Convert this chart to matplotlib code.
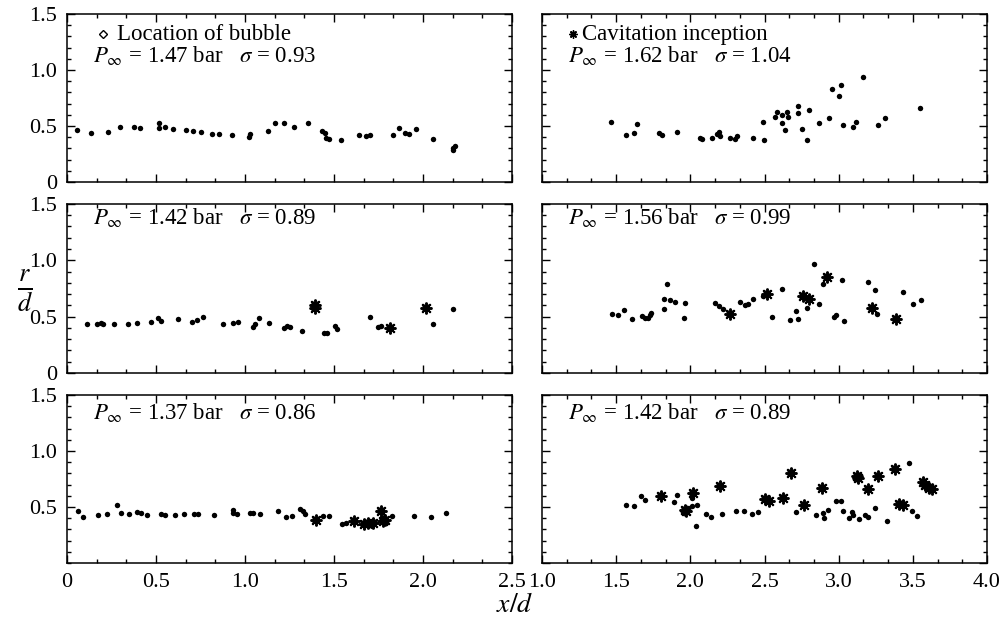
import matplotlib
matplotlib.use("Agg")
import matplotlib.pyplot as plt
from matplotlib.ticker import MultipleLocator, FuncFormatter

plt.rcParams['font.family'] = 'serif'
plt.rcParams['font.serif'] = ['Liberation Serif', 'DejaVu Serif']
plt.rcParams['mathtext.fontset'] = 'stix'

# panel labels (P_inf in bar, sigma)
p_inf = ['1.47', '1.62', '1.42', '1.56', '1.37', '1.42']
sigma = ['0.93', '1.04', '0.89', '0.99', '0.86', '0.89']

# panel 1 (top left) - bubble locations
p1_x = [0.054, 0.133, 0.232, 0.298, 0.376, 0.41, 0.519, 0.519, 0.551, 0.597, 0.669, 0.706,
        0.751, 0.813, 0.854, 0.929, 1.022, 1.028, 1.131, 1.169, 1.219, 1.275, 1.356, 1.431,
        1.449, 1.453, 1.474, 1.539, 1.64, 1.68, 1.702, 1.833, 1.867, 1.899, 1.922, 1.959,
        2.054, 2.167, 2.18, 2.167]
p1_y = [0.464, 0.435, 0.449, 0.494, 0.494, 0.479, 0.524, 0.482, 0.488, 0.473, 0.464, 0.458,
        0.443, 0.429, 0.429, 0.417, 0.405, 0.426, 0.455, 0.524, 0.53, 0.488, 0.53, 0.455,
        0.435, 0.39, 0.384, 0.375, 0.423, 0.411, 0.417, 0.423, 0.482, 0.44, 0.429, 0.47,
        0.387, 0.286, 0.324, 0.306]
p1_sx = []
p1_sy = []

# panel 2 (top right)
p2_x = [1.465, 1.568, 1.617, 1.64, 1.79, 1.812, 1.909, 2.062, 2.078, 2.149, 2.178, 2.19,
        2.201, 2.268, 2.301, 2.313, 2.421, 2.497, 2.493, 2.569, 2.582, 2.616, 2.618, 2.638,
        2.65, 2.661, 2.724, 2.728, 2.755, 2.789, 2.8, 2.87, 2.933, 2.955, 3.016, 3.0, 3.027,
        3.094, 3.117, 3.166, 3.267, 3.312, 3.548]
p2_y = [0.536, 0.418, 0.435, 0.515, 0.435, 0.418, 0.45, 0.391, 0.388, 0.391, 0.426, 0.45,
        0.412, 0.397, 0.382, 0.412, 0.397, 0.377, 0.538, 0.582, 0.624, 0.597, 0.53, 0.465,
        0.627, 0.582, 0.677, 0.612, 0.474, 0.371, 0.647, 0.527, 0.568, 0.83, 0.862, 0.765,
        0.509, 0.491, 0.536, 0.933, 0.509, 0.574, 0.662]
p2_sx = []
p2_sy = []

# panel 3 (middle left)
p3_x = [0.11, 0.167, 0.189, 0.204, 0.266, 0.345, 0.395, 0.47, 0.509, 0.526, 0.625, 0.704,
        0.728, 0.762, 0.878, 0.934, 0.963, 1.043, 1.056, 1.079, 1.137, 1.221, 1.238, 1.253,
        1.322, 1.446, 1.459, 1.506, 1.515, 1.702, 1.745, 1.762, 2.054, 2.167]
p3_y = [0.432, 0.435, 0.447, 0.438, 0.435, 0.438, 0.441, 0.456, 0.485, 0.464, 0.476, 0.456,
        0.47, 0.497, 0.438, 0.444, 0.456, 0.411, 0.432, 0.485, 0.447, 0.396, 0.42, 0.405,
        0.373, 0.352, 0.358, 0.42, 0.387, 0.494, 0.405, 0.42, 0.432, 0.565]
p3_sx = [1.393, 1.393, 1.815, 2.017]
p3_sy = [0.6, 0.575, 0.396, 0.574]

# panel 4 (middle right)
p4_x = [1.471, 1.512, 1.55, 1.606, 1.676, 1.695, 1.712, 1.728, 1.735, 1.819, 1.841, 1.819,
        1.864, 1.898, 1.954, 1.965, 2.167, 2.196, 2.223, 2.336, 2.37, 2.392, 2.421, 2.493,
        2.549, 2.616, 2.672, 2.71, 2.728, 2.784, 2.834, 2.87, 2.892, 2.98, 2.971, 3.02,
        3.036, 3.195, 3.245, 3.256, 3.436, 3.498, 3.552]
p4_y = [0.526, 0.517, 0.555, 0.481, 0.505, 0.49, 0.484, 0.511, 0.532, 0.654, 0.787, 0.57,
        0.645, 0.633, 0.484, 0.624, 0.624, 0.594, 0.564, 0.627, 0.603, 0.609, 0.654, 0.683,
        0.499, 0.742, 0.466, 0.549, 0.481, 0.579, 0.965, 0.609, 0.793, 0.514, 0.499, 0.822,
        0.46, 0.811, 0.736, 0.526, 0.721, 0.615, 0.648]
p4_sx = [2.264, 2.515, 2.762, 2.802, 2.919, 3.222, 3.384]
p4_sy = [0.526, 0.704, 0.683, 0.659, 0.855, 0.579, 0.481]

# panel 5 (bottom left)
p5_x = [0.064, 0.088, 0.172, 0.223, 0.279, 0.303, 0.348, 0.395, 0.416, 0.451, 0.528, 0.551,
        0.607, 0.657, 0.715, 0.738, 0.826, 0.931, 0.931, 0.953, 1.028, 1.047, 1.084, 1.187,
        1.228, 1.262, 1.309, 1.324, 1.337, 1.44, 1.474, 1.547, 1.567, 1.712, 1.824, 1.949,
        2.045, 2.127]
p5_y = [0.462, 0.411, 0.433, 0.435, 0.522, 0.451, 0.441, 0.456, 0.451, 0.433, 0.435, 0.426,
        0.433, 0.441, 0.435, 0.435, 0.433, 0.471, 0.447, 0.441, 0.451, 0.451, 0.441, 0.462,
        0.411, 0.42, 0.48, 0.462, 0.441, 0.418, 0.418, 0.352, 0.361, 0.331, 0.418, 0.418,
        0.411, 0.447]
p5_sx = [1.399, 1.612, 1.67, 1.693, 1.721, 1.762, 1.774, 1.787]
p5_sy = [0.382, 0.376, 0.352, 0.358, 0.361, 0.462, 0.373, 0.388]

# panel 6 (bottom right)
p6_x = [1.568, 1.617, 1.667, 1.695, 1.891, 1.909, 2.01, 2.01, 2.044, 2.04, 2.104, 2.138,
        2.212, 2.309, 2.363, 2.419, 2.453, 2.711, 2.845, 2.896, 2.901, 2.93, 2.982, 3.016,
        3.027, 3.07, 3.092, 3.094, 3.139, 3.177, 3.2, 3.245, 3.323, 3.474, 3.492, 3.526]
p6_y = [0.514, 0.508, 0.597, 0.565, 0.549, 0.603, 0.579, 0.508, 0.52, 0.335, 0.434, 0.41,
        0.44, 0.463, 0.46, 0.44, 0.455, 0.455, 0.425, 0.446, 0.401, 0.475, 0.558, 0.558,
        0.463, 0.401, 0.455, 0.425, 0.395, 0.425, 0.41, 0.49, 0.371, 0.894, 0.463, 0.416]
p6_sx = [1.801, 1.961, 1.97, 2.021, 2.197, 2.504, 2.533, 2.627, 2.679, 2.766, 2.89, 3.126,
         3.132, 3.195, 3.263, 3.379, 3.409, 3.431, 3.566, 3.582, 3.608, 3.631]
p6_sy = [0.597, 0.469, 0.462, 0.624, 0.692, 0.573, 0.552, 0.579, 0.805, 0.514, 0.671, 0.781,
         0.76, 0.662, 0.775, 0.84, 0.529, 0.52, 0.722, 0.701, 0.671, 0.662]

panels = [(p1_x, p1_y, p1_sx, p1_sy), (p2_x, p2_y, p2_sx, p2_sy),
          (p3_x, p3_y, p3_sx, p3_sy), (p4_x, p4_y, p4_sx, p4_sy),
          (p5_x, p5_y, p5_sx, p5_sy), (p6_x, p6_y, p6_sx, p6_sy)]

fig = plt.figure(figsize=(10.06, 6.26), dpi=100)

col_left = [0.0666, 0.5388]
col_w = 0.4423
row_bottom = [0.7093, 0.4042, 0.1006]
row_h = [0.2684, 0.27, 0.2684]
label_y = [0.752, 0.92, 0.897]


def fmt(v, pos):
    return '0' if abs(v) < 1e-9 else '%.1f' % v


def star(ax, x, y, s=1.0, **kw):
    ax.plot(x, y, ls='none', marker='X', ms=6 * s, color='black', mew=0, **kw)
    ax.plot(x, y, ls='none', marker=(8, 2, 0), ms=8.5 * s, color='black', mew=1.4 * s, **kw)


for i, (bx, by, sx, sy) in enumerate(panels):
    r, c = divmod(i, 2)
    ax = fig.add_axes([col_left[c], row_bottom[r], col_w, row_h[r]])
    ax.plot(bx, by, ls='none', marker='o', ms=3.9, color='black', mew=0)
    if sx:
        star(ax, sx, sy)
    ax.set_ylim(0, 1.5)
    if c == 0:
        ax.set_xlim(0, 2.5)
    else:
        ax.set_xlim(1.0, 4.0)
    ax.xaxis.set_major_locator(MultipleLocator(0.5))
    ax.xaxis.set_minor_locator(MultipleLocator(0.5 / 3))
    ax.yaxis.set_major_locator(MultipleLocator(0.5))
    ax.yaxis.set_minor_locator(MultipleLocator(0.1))
    ax.xaxis.set_major_formatter(FuncFormatter(fmt))
    ax.yaxis.set_major_formatter(FuncFormatter(fmt))
    ax.tick_params(which='both', direction='in', top=True, right=True, width=1.0)
    ax.tick_params(which='major', length=6, labelsize=16, pad=7)
    ax.tick_params(which='minor', length=3)
    if r < 2:
        ax.tick_params(labelbottom=False)
    if c == 1:
        ax.tick_params(labelleft=False)
    if r == 2 and c == 0:
        ax.set_yticks([0.5, 1.0, 1.5])
        ax.yaxis.set_minor_locator(MultipleLocator(0.1))
    for sp in ax.spines.values():
        sp.set_linewidth(1.1)

    ax.text(0.058, label_y[r], r'$P_\infty$ = %s bar   $\sigma$ = %s' % (p_inf[i], sigma[i]),
            transform=ax.transAxes, fontsize=16.5, va='center', ha='left')
    if i == 0:
        ax.plot([0.081], [0.88], transform=ax.transAxes, marker='D', ms=4,
                mfc='white', mec='black', mew=1.0, ls='none', clip_on=False)
        ax.text(0.112, 0.88, 'Location of bubble', transform=ax.transAxes,
                fontsize=16.5, va='center', ha='left')
    if i == 1:
        star(ax, [0.069], [0.88], s=0.7, transform=ax.transAxes, clip_on=False)
        ax.text(0.09, 0.88, 'Cavitation inception', transform=ax.transAxes,
                fontsize=16.5, va='center', ha='left')

fig.text(0.025, 0.535, r'$\frac{r}{d}$', fontsize=27, ha='center', va='center')
fig.text(0.512, 0.033, r'$x/d$', fontsize=20, ha='center', va='center')

fig.savefig('out.png', dpi=100)
